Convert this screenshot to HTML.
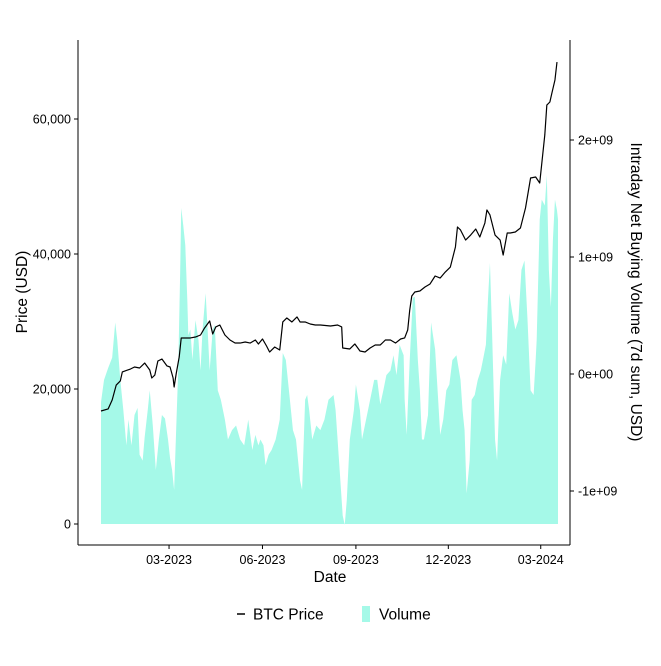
<!DOCTYPE html>
<html><head><meta charset="utf-8"><style>
body{margin:0;background:#fff;position:relative;width:661px;height:661px;overflow:hidden}
svg text{font-family:"Liberation Sans",sans-serif;}
</style></head><body>
<svg id="chart" width="661" height="661" viewBox="0 0 661 661">
<rect width="661" height="661" fill="#fff"/>
</svg>
<script>
const priceDays=[0,7,11,15,19,21,29,33,38,43,48,50,53,56,60,65,68,71,72,74,77,79,83,88,93,98,102,107,110,113,117,122,127,132,137,142,147,152,155,159,163,166,171,176,179,183,188,193,196,201,206,211,216,226,233,237,238,245,250,255,260,265,270,275,280,285,290,295,299,302,304,306,309,314,319,324,329,334,339,344,349,351,354,359,364,369,373,378,380,383,388,393,396,400,403,408,413,418,423,428,432,437,439,442,444,447,449];
const priceValues=[16740,17040,18370,20590,21190,22520,22960,23260,23110,23850,22810,21630,22070,24150,24440,23410,23260,21630,20300,22220,24740,27560,27560,27560,27700,28000,29040,30070,28150,29190,29480,28000,27260,26810,26810,26960,26810,27260,26670,27410,26370,25480,26220,25780,29930,30520,29930,30670,29930,29930,29630,29480,29480,29330,29480,29190,26070,25930,26670,25630,25480,26070,26520,26520,27260,27260,26810,27410,27560,28740,31700,33780,34370,34520,35110,35560,36740,36440,37330,38070,41040,44000,43560,42070,42810,43700,42520,44590,46520,45780,42810,42070,39850,43110,43110,43260,43850,46810,51260,51410,50520,57630,62070,62520,63850,65780,68440];
const volDays=[0,3,7,11,14,16,19,22,25,27,30,33,36,38,41,43,46,48,51,54,57,60,63,66,68,70,72,74,76,78,79,81,83,85,86,88,90,93,96,98,100,103,105,107,110,112,115,118,122,125,129,133,137,141,145,149,152,155,157,160,162,165,168,172,176,179,182,186,189,192,196,198,201,203,205,208,212,216,220,224,229,231,235,238,240,242,245,249,251,255,257,261,265,269,272,275,278,281,285,288,291,294,298,299,301,304,307,309,312,314,316,318,322,325,329,332,334,337,340,343,346,350,354,356,358,360,363,365,368,371,374,377,379,381,383,385,388,390,393,396,399,402,405,408,411,414,417,420,423,426,428,429,432,434,437,439,441,443,445,447,449,450];
const volValues=[-0.24,-0.05,0.05,0.14,0.44,0.29,-0.05,-0.31,-0.61,-0.39,-0.61,-0.35,-0.29,-0.69,-0.74,-0.54,-0.31,-0.14,-0.44,-0.82,-0.56,-0.35,-0.38,-0.56,-0.72,-0.82,-0.99,-0.48,0.03,0.89,1.42,1.27,1.10,0.63,0.33,0.38,0.12,0.46,0.29,0.03,0.38,0.69,0.38,0.03,0.38,0.42,-0.14,-0.22,-0.39,-0.56,-0.48,-0.44,-0.56,-0.61,-0.39,-0.65,-0.52,-0.61,-0.56,-0.61,-0.78,-0.69,-0.65,-0.56,-0.39,0.18,0.12,-0.22,-0.48,-0.56,-0.91,-0.99,-0.22,-0.18,-0.31,-0.56,-0.44,-0.48,-0.39,-0.22,-0.18,-0.31,-0.82,-1.21,-1.29,-1.08,-0.56,-0.31,-0.09,-0.31,-0.56,-0.39,-0.22,-0.05,-0.05,-0.26,-0.14,-0.01,0.03,0.16,-0.01,0.25,0.16,-0.22,-0.52,0.12,0.65,0.66,0.12,-0.14,-0.56,-0.56,-0.35,0.44,0.21,-0.22,-0.52,-0.39,-0.14,-0.09,0.12,0.16,-0.05,-0.31,-0.48,-1.02,-0.74,-0.22,-0.18,-0.05,0.03,0.16,0.25,0.63,0.95,0.38,-0.56,-0.74,-0.05,0.16,0.08,0.69,0.52,0.38,0.46,0.89,0.97,0.46,-0.14,-0.18,0.12,0.29,1.32,1.49,1.44,1.70,0.89,0.57,1.15,1.49,1.40,1.32].map(v=>v*1e9);
const leftTicks=[0,20000,40000,60000];
const leftTickLabels=["0","20,000","40,000","60,000"];
const rightTicks=[-1e9,0,1e9,2e9];
const rightTickLabels=["-1e+09","0e+00","1e+09","2e+09"];
const xTickDays=[67,159,251,342,433];
const xTickLabels=["03-2023","06-2023","09-2023","12-2023","03-2024"];

const NS="http://www.w3.org/2000/svg";
const svg=document.getElementById('chart');
const L=78,R=570,T=40,B=545;
const x=d=>101+(d/450)*457;
const yP=p=>524-p*135/20000;
const yV=v=>374-v*117/1e9;
const volBase=-1.282e9;
function mk(tag,attrs){const e=document.createElementNS(NS,tag);for(const k in attrs)e.setAttribute(k,attrs[k]);svg.appendChild(e);return e;}

let d=`M${x(volDays[0])},${yV(volBase)}`;
volDays.forEach((dd,i)=>{d+=`L${x(dd)},${yV(volValues[i])}`;});
d+=`L${x(volDays[volDays.length-1])},${yV(volBase)}Z`;
const area=mk('path',{d:d,fill:'#a5f9e8',stroke:'none'});



const pts=priceDays.map((dd,i)=>`${x(dd)},${yP(priceValues[i])}`).join(' ');
const line=mk('polyline',{points:pts,fill:'none',stroke:'#000','stroke-width':1.2,'stroke-linejoin':'round'});



const axL=mk('line',{x1:L,y1:T,x2:L,y2:B,stroke:'#000','stroke-width':1});


const axR=mk('line',{x1:R,y1:T,x2:R,y2:B,stroke:'#000','stroke-width':1});


const axB=mk('line',{x1:L,y1:B,x2:R,y2:B,stroke:'#000','stroke-width':1});



leftTicks.forEach((v,i)=>{
  const tk=mk('line',{x1:L-4,x2:L,y1:yP(v),y2:yP(v),stroke:'#000'});
  
  
  const t=mk('text',{x:L-7,y:yP(v)+4.5,'text-anchor':'end','font-size':12.5,fill:'#000'});
  t.textContent=leftTickLabels[i];
  
  
});
rightTicks.forEach((v,i)=>{
  const tk=mk('line',{x1:R,x2:R+4,y1:yV(v),y2:yV(v),stroke:'#000'});
  
  
  const t=mk('text',{x:R+8,y:yV(v)+4.5,'text-anchor':'start','font-size':12.5,fill:'#000'});
  t.textContent=rightTickLabels[i];
  
  
});
xTickDays.forEach((dd,i)=>{
  const tk=mk('line',{x1:x(dd),x2:x(dd),y1:B,y2:B+4,stroke:'#000'});
  
  
  const t=mk('text',{x:x(dd),y:B+19,'text-anchor':'middle','font-size':12.5,fill:'#000'});
  t.textContent=xTickLabels[i];
  
  
});
</script>
<svg width="661" height="661" style="position:absolute;left:0;top:0;pointer-events:none">
<text x="330" y="582" text-anchor="middle" font-size="15.5">Date</text>
<text transform="translate(27,292) rotate(-90)" text-anchor="middle" font-size="15.5">Price (USD)</text>
<text transform="translate(631,292) rotate(90)" text-anchor="middle" font-size="15.5">Intraday Net Buying Volume (7d sum, USD)</text>
<g>
<line x1="237" y1="614" x2="245" y2="614" stroke="#000" stroke-width="1.5"/>
<text x="253" y="619.5" font-size="15.5">BTC Price</text>
<rect x="362" y="606" width="8" height="16" fill="#a5f9e8"/>
<text x="379" y="619.5" font-size="15.5">Volume</text>
</g>
</svg>
</body></html>
